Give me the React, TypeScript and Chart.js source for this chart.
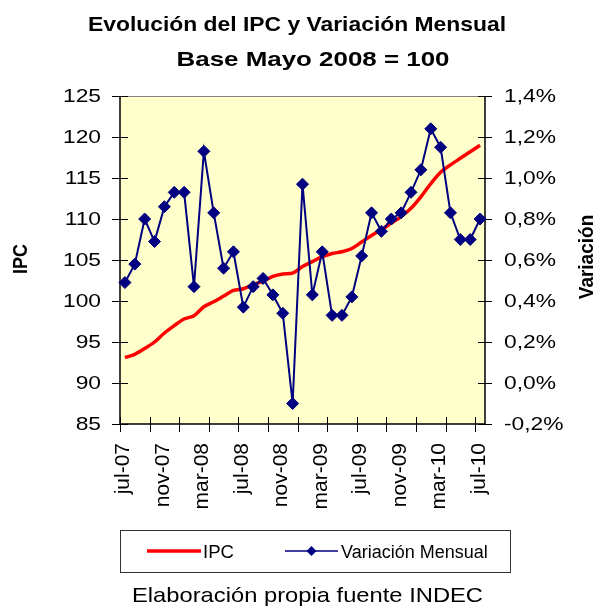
import React, { useEffect, useRef } from 'react';
import { Chart, registerables } from 'chart.js';
Chart.register(...registerables);

const months = ['jul-07','ago-07','sep-07','oct-07','nov-07','dic-07','ene-08','feb-08','mar-08','abr-08','may-08','jun-08','jul-08','ago-08','sep-08','oct-08','nov-08','dic-08','ene-09','feb-09','mar-09','abr-09','may-09','jun-09','jul-09','ago-09','sep-09','oct-09','nov-09','dic-09','ene-10','feb-10','mar-10','abr-10','may-10','jun-10','jul-10'];

const ipc = [93.1,93.5,94.2,95.0,96.1,97.0,97.8,98.2,99.3,99.9,100.6,101.3,101.5,102.0,102.4,103.0,103.3,103.4,104.2,104.8,105.4,105.8,106.0,106.4,107.2,108.0,108.7,109.5,110.3,111.3,112.7,114.3,115.7,116.6,117.4,118.2,119.0];

const variacion = [0.49,0.58,0.80,0.69,0.86,0.93,0.93,0.47,1.13,0.83,0.56,0.64,0.37,0.47,0.51,0.43,0.34,-0.10,0.97,0.43,0.64,0.33,0.33,0.42,0.62,0.83,0.74,0.80,0.83,0.93,1.04,1.24,1.15,0.83,0.70,0.70,0.80];

const leftTicks = [85,90,95,100,105,110,115,120,125];
const rightTicks = [-0.2,0,0.2,0.4,0.6,0.8,1.0,1.2,1.4];
const rightTickLabels = ['-0,2%','0,0%','0,2%','0,4%','0,6%','0,8%','1,0%','1,2%','1,4%'];

const titleLines = ['Evolución del IPC y Variación Mensual', 'Base Mayo 2008 = 100'];
const leftTitle = 'IPC';
const rightTitle = 'Variación';
const footer = 'Elaboración propia fuente INDEC';
const seriesNames = ['IPC', 'Variación Mensual'];

const FONT = '"Liberation Sans", Arial, sans-serif';

function drawText(ctx: CanvasRenderingContext2D, s: string, x: number, y: number, font: string, align: CanvasTextAlign, sx = 1, rot = 0, baseline: CanvasTextBaseline = 'alphabetic') {
  ctx.save();
  ctx.translate(x, y);
  ctx.scale(sx, 1);
  if (rot) ctx.rotate(rot);
  ctx.font = font;
  ctx.textAlign = align;
  ctx.textBaseline = baseline;
  ctx.fillStyle = '#000';
  ctx.fillText(s, 0, 0);
  ctx.restore();
}

function fitText(ctx: CanvasRenderingContext2D, s: string, cx: number, y: number, font: string, width: number) {
  ctx.save();
  ctx.font = font;
  const w = ctx.measureText(s).width;
  ctx.restore();
  drawText(ctx, s, cx, y, font, 'center', width / w);
}

const customPlugin = {
  id: 'customDraw',
  beforeDatasetsDraw(chart: any) {
    const { ctx, chartArea: a } = chart;
    ctx.save();
    ctx.fillStyle = '#FFFFCC';
    ctx.fillRect(a.left, a.top, a.right - a.left, a.bottom - a.top);
    // top border (gray)
    ctx.strokeStyle = '#808080';
    ctx.lineWidth = 1;
    ctx.beginPath();
    ctx.moveTo(a.left, a.top + 0.5);
    ctx.lineTo(a.right, a.top + 0.5);
    ctx.stroke();
    // axes
    ctx.strokeStyle = '#000';
    ctx.lineWidth = 1.5;
    ctx.beginPath();
    ctx.moveTo(a.left, a.top);
    ctx.lineTo(a.left, a.bottom);
    ctx.lineTo(a.right, a.bottom);
    ctx.moveTo(a.right, a.top);
    ctx.lineTo(a.right, a.bottom);
    ctx.stroke();
    // tick marks
    ctx.lineWidth = 1;
    const yL = chart.scales.y;
    const yR = chart.scales.y1;
    const x = chart.scales.x;
    ctx.beginPath();
    leftTicks.forEach(v => {
      const py = Math.round(yL.getPixelForValue(v)) + 0.5;
      ctx.moveTo(a.left - 8, py); ctx.lineTo(a.left + 8, py);
    });
    rightTicks.forEach(v => {
      const py = Math.round(yR.getPixelForValue(v)) + 0.5;
      ctx.moveTo(a.right - 7, py); ctx.lineTo(a.right + 7, py);
    });
    const n = months.length;
    const cw = (a.right - a.left) / n;
    for (let i = 0; i < n; i += 3) {
      const px = Math.round(x.getPixelForValue(i) - cw / 2) + 0.5;
      ctx.moveTo(px, a.bottom - 7); ctx.lineTo(px, a.bottom + 8);
    }
    ctx.stroke();
    ctx.restore();
  },
  afterDraw(chart: any) {
    const { ctx, chartArea: a } = chart;
    const yL = chart.scales.y;
    const yR = chart.scales.y1;
    const x = chart.scales.x;
    // Title
    fitText(ctx, titleLines[0], 297, 30.5, `bold 21px ${FONT}`, 418);
    fitText(ctx, titleLines[1], 313, 65.5, `bold 21px ${FONT}`, 273);
    // Left tick labels
    leftTicks.forEach(v => {
      drawText(ctx, String(v), 101, yL.getPixelForValue(v) + 5.5, `19px ${FONT}`, 'right', 1.2);
    });
    // Right tick labels
    rightTicks.forEach((v, i) => {
      drawText(ctx, rightTickLabels[i], 504, yR.getPixelForValue(v) + 5.5, `19px ${FONT}`, 'left', 1.2);
    });
    // X labels
    months.forEach((m, i) => {
      if (i % 4 !== 0) return;
      const px = x.getPixelForValue(i);
      drawText(ctx, m, px + 4.5, 443, `21px ${FONT}`, 'right', 1, -Math.PI / 2);
    });
    // Axis titles
    drawText(ctx, leftTitle, 26.5, 259, `bold 18px ${FONT}`, 'center', 1.15, -Math.PI / 2);
    drawText(ctx, rightTitle, 593, 257, `bold 19px ${FONT}`, 'center', 1.1, -Math.PI / 2);
    // Legend
    ctx.save();
    ctx.strokeStyle = '#333';
    ctx.lineWidth = 1;
    ctx.strokeRect(120.5, 530.5, 390, 42);
    ctx.strokeStyle = '#FF0000';
    ctx.lineWidth = 3.5;
    ctx.beginPath();
    ctx.moveTo(147, 551); ctx.lineTo(201, 551);
    ctx.stroke();
    ctx.strokeStyle = '#000080';
    ctx.lineWidth = 1.5;
    ctx.beginPath();
    ctx.moveTo(285, 551); ctx.lineTo(338, 551);
    ctx.stroke();
    ctx.fillStyle = '#000080';
    ctx.beginPath();
    ctx.moveTo(311.5 - 5, 551); ctx.lineTo(311.5, 546); ctx.lineTo(311.5 + 5, 551); ctx.lineTo(311.5, 556);
    ctx.closePath();
    ctx.fill();
    ctx.restore();
    drawText(ctx, seriesNames[0], 203, 558, `18px ${FONT}`, 'left', 1.03);
    drawText(ctx, seriesNames[1], 341, 558, `18px ${FONT}`, 'left', 1.0);
    // Footer
    fitText(ctx, footer, 307.5, 602, `21px ${FONT}`, 351);
  }
};

export default function App() {
  const ref = useRef<HTMLCanvasElement | null>(null);
  useEffect(() => {
    document.body.style.margin = '0';
    const canvas = ref.current!;
    const chart = new Chart(canvas, {
      type: 'line',
      data: {
        labels: months,
        datasets: [
          {
            label: seriesNames[0],
            data: ipc,
            yAxisID: 'y',
            borderColor: '#FF0000',
            backgroundColor: '#FF0000',
            borderWidth: 3.5,
            pointRadius: 0,
            tension: 0.3,
            order: 2,
            clip: 10,
          },
          {
            label: seriesNames[1],
            data: variacion,
            yAxisID: 'y1',
            borderColor: '#000080',
            backgroundColor: '#000080',
            borderWidth: 2,
            pointStyle: 'rectRot',
            pointRadius: 6,
            pointBorderWidth: 1,
            pointBorderColor: '#000080',
            pointBackgroundColor: '#000080',
            tension: 0,
            order: 1,
            clip: 10,
          },
        ],
      },
      options: {
        responsive: false,
        animation: false,
        layout: { padding: { left: 120, right: 113, top: 96, bottom: 184 } },
        plugins: { legend: { display: false }, title: { display: false }, tooltip: { enabled: false } },
        scales: {
          x: { type: 'category', offset: true, display: false },
          y: { type: 'linear', position: 'left', min: 85, max: 125, display: false },
          y1: { type: 'linear', position: 'right', min: -0.2, max: 1.4, display: false },
        },
      },
      plugins: [customPlugin],
    });
    return () => chart.destroy();
  }, []);
  return <canvas ref={ref} width={598} height={608} style={{ display: 'block' }} />;
}
